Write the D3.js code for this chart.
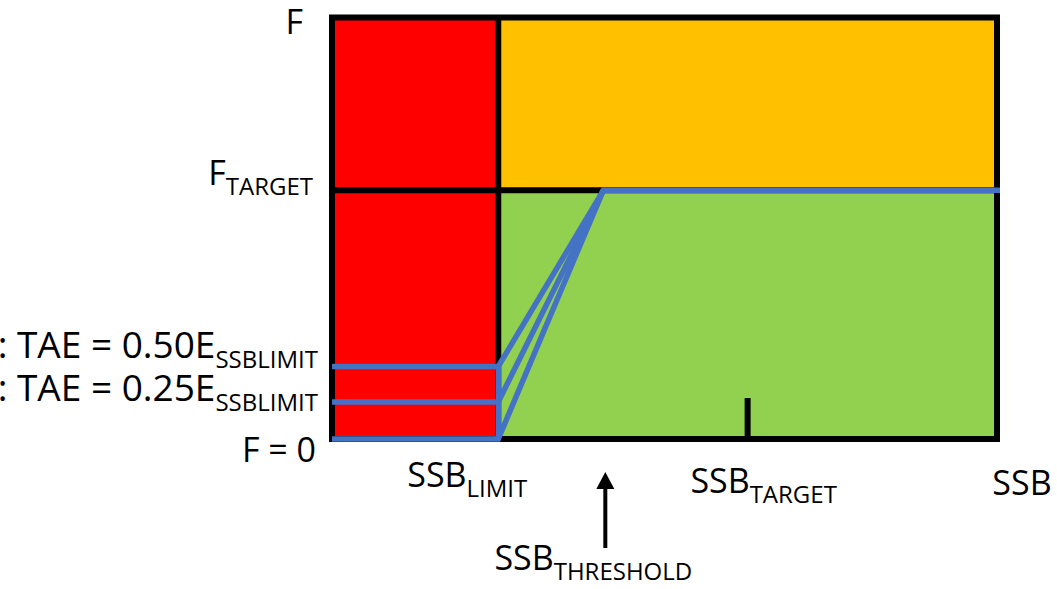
<!DOCTYPE html>
<html>
<head>
<meta charset="utf-8">
<script src="https://cdn.jsdelivr.net/npm/d3@7"></script>
<style>
  html, body { margin: 0; padding: 0; background: #fff; }
  svg { display: block; }
  text { font-family: "Open Sans", sans-serif; fill: #000; }
</style>
</head>
<body>
<svg id="chart" width="1057" height="589"></svg>
<script>
// ---- data ----
const ssbMax = 1;
const ssbLimit = 0.25;
const ssbThreshold = 0.408;
const ssbTarget = 0.625;
const fMax = 1;
const fTarget = 0.59;
const taeLevels = [0, 0.088, 0.172];           // F at SSB_LIMIT for F=0, 0.25E, 0.50E
const taeNames = ["F = 0", ": TAE = 0.25E", ": TAE = 0.50E"];
const taeSubs = ["", "SSBLIMIT", "SSBLIMIT"];
const zoneNames = ["red", "orange", "green"];

// ---- scales ----
const svg = d3.select("#chart");
const x = d3.scaleLinear().domain([0, ssbMax]).range([332, 997]);
const y = d3.scaleLinear().domain([0, fMax]).range([439, 17.5]);

const zones = [
  {name: zoneNames[0], x0: 0, x1: ssbLimit, y0: 0, y1: fMax, color: "#FF0000"},
  {name: zoneNames[1], x0: ssbLimit, x1: ssbMax, y0: fTarget, y1: fMax, color: "#FFC000"},
  {name: zoneNames[2], x0: ssbLimit, x1: ssbMax, y0: 0, y1: fTarget, color: "#92D050"}
];

svg.selectAll("rect.zone").data(zones).join("rect")
  .attr("class", "zone")
  .attr("x", d => x(d.x0)).attr("y", d => y(d.y1))
  .attr("width", d => x(d.x1) - x(d.x0)).attr("height", d => y(d.y0) - y(d.y1))
  .attr("fill", d => d.color);

// black structure lines
const blk = svg.append("g").attr("stroke", "#000").attr("stroke-width", 6).attr("fill", "none");
blk.append("line").attr("x1", x(0)).attr("x2", x(ssbMax)).attr("y1", y(fTarget)).attr("y2", y(fTarget));
blk.append("line").attr("x1", x(ssbLimit)).attr("x2", x(ssbLimit)).attr("y1", y(0)).attr("y2", y(fMax));
blk.append("line").attr("x1", x(ssbTarget)).attr("x2", x(ssbTarget)).attr("y1", y(0)).attr("y2", y(0) - 41);
blk.append("rect").attr("x", x(0)).attr("y", y(fMax))
  .attr("width", x(ssbMax) - x(0)).attr("height", y(0) - y(fMax))
  .attr("stroke-linejoin", "miter");

// ---- HCR lines ----
const line = d3.line().x(d => x(d[0])).y(d => y(d[1]));
const hcrs = taeLevels.map((lv, i) => {
  const pts = [[0, lv], [ssbLimit, lv], [ssbThreshold, fTarget]];
  if (i === 0) pts.push([ssbMax, fTarget]);
  return pts;
});
const blue = svg.append("g").attr("stroke", "#4472C4").attr("stroke-width", 5.5)
  .attr("fill", "none").attr("stroke-linejoin", "miter");
blue.selectAll("path").data(hcrs).join("path").attr("d", line);
blue.append("path").attr("d", line([[ssbLimit, 0], [ssbLimit, d3.max(taeLevels)]]));
// extend target line over the right border
blue.append("path").attr("d", `M${x(ssbMax)},${y(fTarget)}H${x(ssbMax) + 3}`);

// ---- labels ----
function label(xp, yp, main, sub, anchor, size) {
  const t = svg.append("text").attr("x", xp).attr("y", yp)
    .attr("text-anchor", anchor).style("font-size", (size || 34) + "px");
  t.append("tspan").text(main);
  if (sub) t.append("tspan").attr("dy", 10).style("font-size", "24px").text(sub);
  return t;
}

// y-axis labels
label(303, 34, "F", "", "end");
label(313, y(fTarget) - 5, "F", "TARGET", "end");
label(316, y(taeLevels[0]) + 23, taeNames[0], "", "end");
label(318, 401, taeNames[1], taeSubs[1], "end", 37);
label(318, 358, taeNames[2], taeSubs[2], "end", 37);

// x-axis labels
label(x(ssbLimit) - 31, 487, "SSB", "LIMIT", "middle");
label(x(ssbTarget) + 16, 493, "SSB", "TARGET", "middle");
label(x(ssbMax) + 25, 495, "SSB", "", "middle");
label(x(ssbThreshold) - 10, 570, "SSB", "THRESHOLD", "middle");

// arrow to threshold
const ax = x(ssbThreshold) + 2;
svg.append("line").attr("x1", ax).attr("x2", ax).attr("y1", 548).attr("y2", 486)
  .attr("stroke", "#000").attr("stroke-width", 4);
svg.append("path").attr("d", `M${ax},472L${ax + 9},489L${ax - 9},489Z`).attr("fill", "#000");
</script>
</body>
</html>
